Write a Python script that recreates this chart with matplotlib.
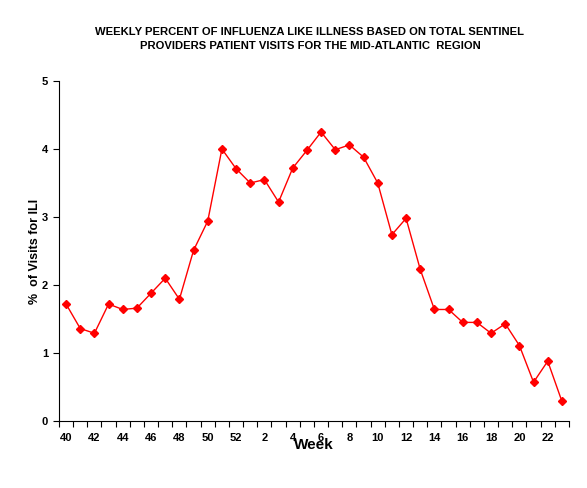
import matplotlib.pyplot as plt
import numpy as np

plt.rcParams['font.family'] = ['Liberation Sans', 'DejaVu Sans']

weeks = [40, 41, 42, 43, 44, 45, 46, 47, 48, 49, 50, 51, 52,
         1, 2, 3, 4, 5, 6, 7, 8, 9, 10, 11, 12, 13, 14, 15, 16, 17, 18, 19, 20, 21, 22, 23]
ili = [1.72, 1.36, 1.29, 1.72, 1.64, 1.66, 1.88, 2.10, 1.79, 2.51, 2.94, 4.00, 3.71,
       3.50, 3.55, 3.22, 3.72, 3.98, 4.25, 3.99, 4.06, 3.88, 3.50, 2.74, 2.98, 2.23,
       1.64, 1.64, 1.45, 1.45, 1.29, 1.43, 1.11, 0.57, 0.88, 0.29]

x = np.arange(len(weeks))

fig = plt.figure(figsize=(5.87, 4.88), dpi=100)
ax = fig.add_axes([0.1005, 0.1373, 0.8688, 0.6967])

ax.plot(x, ili, color='red', lw=1, marker='D', markersize=4.5)

ax.set_xlim(-0.5, len(weeks) - 0.5)
ax.set_ylim(0, 5)
ax.set_yticks(range(6))
ax.tick_params(axis='y', direction='out', length=4, labelsize=8, pad=4)

# tick marks at category boundaries, labels at every other week
ax.set_xticks(np.arange(len(weeks) + 1) - 0.5)
ax.set_xticklabels([])
ax.tick_params(axis='x', which='major', direction='out', length=4)
ax.set_xticks(x[::2], minor=True)
ax.set_xticklabels([str(w) for w in weeks[::2]], minor=True, fontsize=8, fontweight='bold')
ax.tick_params(axis='x', which='minor', length=0, pad=9)
for lab in ax.get_yticklabels():
    lab.set_fontweight('bold')

ax.spines['top'].set_visible(False)
ax.spines['right'].set_visible(False)

ax.set_xlabel('Week', fontsize=11, fontweight='bold', labelpad=-4)
ax.set_ylabel('%  of Visits for ILI', fontsize=9, fontweight='bold', va='center')
ax.yaxis.set_label_coords(-0.047, 0.5)

fig.text(0.528, 0.92, 'WEEKLY PERCENT OF INFLUENZA LIKE ILLNESS BASED ON TOTAL SENTINEL\n'
         'PROVIDERS PATIENT VISITS FOR THE MID-ATLANTIC  REGION',
         ha='center', va='center', fontsize=8.1, fontweight='bold', linespacing=1.5)

fig.savefig('out.png', dpi=100)
